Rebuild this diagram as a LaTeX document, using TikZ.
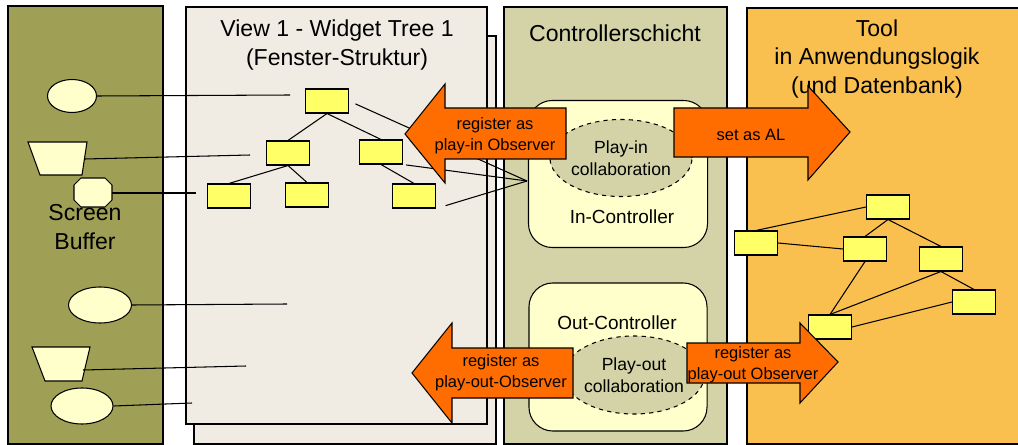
\documentclass[tikz,border=0pt]{standalone}
\usepackage{fontspec}
\setmainfont{Liberation Sans}
\usetikzlibrary{shapes.geometric}

\definecolor{bufolive}{HTML}{9FA055}
\definecolor{viewbg}{HTML}{F0ECE3}
\definecolor{ctrlbg}{HTML}{D3D3A7}
\definecolor{toolbg}{HTML}{FAC04F}
\definecolor{boxyellow}{HTML}{FFFF66}
\definecolor{paleyellow}{HTML}{FFFFCC}
\definecolor{arrorange}{HTML}{FF6D00}

\begin{document}
\begin{tikzpicture}[x=0.025cm,y=-0.025cm,line width=0.75pt,
	wbox/.style={draw=black,fill=boxyellow,minimum width=1.075cm,minimum height=0.6cm,inner sep=0pt},
	blob/.style={draw=black,fill=paleyellow,inner sep=0pt},
	ctrl/.style={draw=black,fill=paleyellow,rounded corners=17pt,inner sep=0pt},
	collab/.style={shape=ellipse,draw=black,dashed,fill=ctrlbg,inner sep=0pt,align=center,font=\fontsize{12.5pt}{15.6pt}\selectfont},
	title/.style={align=center,font=\fontsize{16.4pt}{20pt}\selectfont},
	arrlbl/.style={align=center,inner sep=0pt,font=\fontsize{11.7pt}{14.6pt}\selectfont},
	bigarrow/.style={draw=black,fill=arrorange,line join=miter}]
	
	\useasboundingbox (0,0) rectangle (1018,445);
	
	% panels
	\draw[fill=bufolive] (8,6) rectangle (163,444);
	\draw[fill=viewbg] (194,36) rectangle (496,444);
	\draw[fill=viewbg] (186,7) rectangle (487,424);
	\draw[fill=ctrlbg] (504,7) rectangle (727,444);
	\draw[fill=toolbg] (747,8) rectangle (1030,444);
	
	\node[title] (bufT)  at (85,227)  {Screen\\Buffer};
	\node[title] (viewT) at (337,45)  {View 1 - Widget Tree 1\\(Fenster-Struktur)};
	\node[title] (ctrlT) at (615,33)  {Controllerschicht};
	\node[title] (toolT) at (877,59)  {Tool\\in Anwendungslogik\\(und Datenbank)};
	
	% screen buffer shapes
	\node[blob,shape=ellipse,minimum width=1.225cm,minimum height=0.825cm] (e1) at (72,96) {};
	\draw[fill=paleyellow] (28,142) -- (87,142) -- (82,175) -- (40,175) -- cycle;
	\coordinate (t1) at (85,159);
	\draw[fill=paleyellow] (81,178) -- (105,178) -- (112,185) -- (112,200) -- (105,207) -- (81,207) -- (74,200) -- (74,185) -- cycle;
	\coordinate (o1) at (112,193);
	\node[blob,shape=ellipse,minimum width=1.575cm,minimum height=0.9cm] (e2) at (100,305) {};
	\draw[fill=paleyellow] (32,347) -- (90,347) -- (82,381) -- (45,381) -- cycle;
	\coordinate (t2) at (83,370);
	\node[blob,shape=ellipse,minimum width=1.55cm,minimum height=0.9cm] (e3) at (82,406) {};
	
	\coordinate (w1) at (290,95);
	\coordinate (w2) at (250,155);
	\coordinate (w3) at (196,193);
	\coordinate (w4) at (287,304);
	\coordinate (w5) at (246,366);
	\coordinate (w6) at (192,403);
	
	\draw (e1.east) -- (w1);
	\draw (t1) -- (w2);
	\draw (o1) -- (w3);
	\draw (e2.east) -- (w4);
	\draw (t2) -- (w5);
	\draw (e3.east) -- (w6);
	
	% widget tree
	\node[wbox] (r)  at (327,101) {};
	\node[wbox] (mL) at (288,153) {};
	\node[wbox] (mR) at (381,152) {};
	\node[wbox] (b1) at (229,196) {};
	\node[wbox] (b2) at (307,195) {};
	\node[wbox] (b3) at (414,196) {};
	
	\draw (r.south) -- (mL.north);
	\draw (r.south) -- (mR.north);
	\draw (mL.south) -- (b1.north);
	\draw (mL.south) -- (b2.north);
	\draw (mR.south) -- (b3.north);
	
	% controllers
	\node[ctrl,minimum width=4.475cm,minimum height=3.675cm] (inCtrl)  at (618,174) {};
	\node[ctrl,minimum width=4.45cm,minimum height=3.7cm]    (outCtrl) at (618,357) {};
	\node[collab,minimum width=3.55cm,minimum height=1.925cm] (playIn)  at (621,158) {Play-in\\collaboration};
	\node[collab,minimum width=3.2cm,minimum height=1.95cm]   (playOut) at (634,375) {Play-out\\collaboration};
	\node[font=\fontsize{13.5pt}{16pt}\selectfont] (inLbl)  at (622,217) {In-Controller};
	\node[font=\fontsize{13.5pt}{16pt}\selectfont] (outLbl) at (617,323) {Out-Controller};
	
	\coordinate (conv) at (527,181);
	\draw[shorten <=0.175cm] (r.east) -- (conv);
	\draw[shorten <=0.08cm] (mR.south east) -- (conv);
	\draw[shorten <=0.25cm] (b3.south east) -- (conv);
	
	% tool tree
	\node[wbox] (tTop) at (888,207) {};
	\node[wbox] (tL)   at (756,243) {};
	\node[wbox] (tM)   at (865,249) {};
	\node[wbox] (tR)   at (941,259) {};
	\node[wbox] (tF)   at (974,302) {};
	\node[wbox] (tB)   at (830,327) {};
	
	\draw (tTop.west) -- (tL.north);
	\draw (tTop.south) -- (tM.north);
	\draw (tTop.south) -- (tR.north);
	\draw (tL.east) -- (tM.west);
	\draw (tM.south) -- (tB.north);
	\draw (tR.south) -- (tB.north);
	\draw (tR.south) -- (tF.north);
	\draw (tB.east) -- (tF.west);
	
	% big arrows
	\draw[bigarrow] (405,134) -- (445,84) -- (445,108) -- (566,108) -- (566,159) -- (445,159) -- (445,183) -- cycle;
	\draw[bigarrow] (674,108) -- (808,108) -- (808,86) -- (850,132) -- (808,180) -- (808,157) -- (674,157) -- cycle;
	\draw[bigarrow] (412,373) -- (452,323) -- (452,348) -- (573,348) -- (573,398) -- (452,398) -- (452,423) -- cycle;
	\draw[bigarrow] (687,343) -- (800,343) -- (800,323) -- (838,362) -- (800,403) -- (800,383) -- (687,383) -- cycle;
	
	\node[arrlbl] (lblIn)   at (495,136) {register as\\play-in Observer};
	\node[arrlbl] (lblAL)   at (751,135) {set as AL};
	\node[arrlbl] (lblOut)  at (501,373) {register as\\play-out-Observer};
	\node[arrlbl] (lblOut2) at (753,365) {register as\\play-out Observer};
	
\end{tikzpicture}
\end{document}
